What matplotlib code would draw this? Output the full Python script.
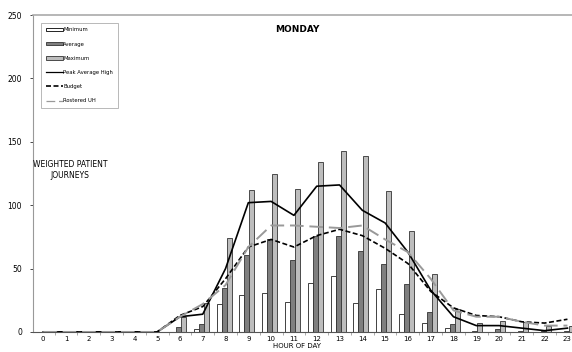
import matplotlib
matplotlib.use("Agg")
import matplotlib.pyplot as plt
import numpy as np
from matplotlib.patches import Patch
from matplotlib.lines import Line2D

hours = list(range(24))
hour_labels = [str(h) for h in hours]

minimum = [0, 0, 0, 0, 0, 0, 0, 2, 22, 29, 31, 24, 39, 44, 23, 34, 14, 7, 3, 0, 0, 0, 0, 0]
average = [0, 0, 0, 0, 0, 0, 4, 6, 35, 61, 73, 57, 76, 76, 64, 54, 38, 16, 6, 1, 2, 1, 1, 1]
maximum = [0, 0, 0, 0, 0, 0, 12, 23, 74, 112, 125, 113, 134, 143, 139, 111, 80, 46, 18, 7, 9, 8, 5, 5]

peak_avg_high = [0, 0, 0, 0, 0, 0, 12, 14, 50, 102, 103, 92, 115, 116, 96, 86, 63, 33, 12, 5, 5, 3, 1, 3]
budget = [0, 0, 0, 0, 0, 0, 13, 20, 42, 67, 73, 67, 76, 81, 76, 66, 54, 32, 19, 13, 12, 8, 7, 10]
rostered_uh = [0, 0, 0, 0, 0, 0, 12, 22, 37, 67, 84, 84, 83, 82, 84, 73, 63, 42, 17, 12, 12, 8, 5, 5]

y_ticks = [0, 50, 100, 150, 200, 250]

fig = plt.figure(figsize=(5.72, 3.52), dpi=100)
ax = fig.add_axes([0.058, 0.057, 0.942, 0.9])

x = np.arange(len(hours))
w = 0.22
ax.bar(x - 0.28, minimum, w, color="white", edgecolor="#222222", linewidth=0.6, zorder=2)
ax.bar(x - 0.06, average, w, color="#7f7f7f", edgecolor="#333333", linewidth=0.6, zorder=2)
ax.bar(x + 0.16, maximum, w, color="#bdbdbd", edgecolor="#333333", linewidth=0.6, zorder=2)

ax.plot(x, peak_avg_high, color="black", linewidth=1.2, zorder=3)
ax.plot(x, budget, color="black", linewidth=1.2, linestyle=(0, (3, 1.5)), zorder=3)
ax.plot(x, rostered_uh, color="#999999", linewidth=1.4, linestyle=(0, (7, 3)), zorder=3)

ax.set_xlim(-0.44, 23.2)
ax.set_ylim(0, 250)
ax.set_xticks(x)
ax.set_xticklabels(hour_labels, fontsize=5)
ax.set_yticks(y_ticks)
ax.set_yticklabels([str(v) for v in y_ticks], fontsize=5.5)
ax.set_xticks(x[:-1] + 0.5, minor=True)
ax.tick_params(axis="x", which="major", length=0, pad=3)
ax.tick_params(axis="x", which="minor", length=2, width=0.5, direction="out", color="#888888")
ax.tick_params(axis="y", length=2, width=0.5, pad=6)

ax.spines["right"].set_visible(False)
ax.spines["top"].set_color("#aaaaaa")
ax.spines["top"].set_linewidth(1.2)
ax.spines["left"].set_color("#999999")
ax.spines["left"].set_linewidth(0.8)
ax.spines["bottom"].set_color("#555555")
ax.spines["bottom"].set_linewidth(0.8)

ax.text(0.49, 0.955, "MONDAY", transform=ax.transAxes, ha="center", va="center",
        fontsize=6.5, fontweight="bold")
ax.text(0.068, 0.51, "WEIGHTED PATIENT\nJOURNEYS", transform=ax.transAxes, ha="center",
        va="center", fontsize=5.5, linespacing=1.3)
fig.text(0.52, 0.008, "HOUR OF DAY", ha="center", va="bottom", fontsize=5)

handles = [
    Patch(facecolor="white", edgecolor="black", linewidth=0.6),
    Patch(facecolor="#7f7f7f", edgecolor="#333333", linewidth=0.6),
    Patch(facecolor="#bdbdbd", edgecolor="#333333", linewidth=0.6),
    Line2D([], [], color="black", linewidth=0.9),
    Line2D([], [], color="black", linewidth=1.2, linestyle=(0, (3, 1.5))),
    Line2D([], [], color="#999999", linewidth=0.9, linestyle=(0, (7, 3))),
]
labels = ["Minimum", "Average", "Maximum", "Peak Average High", "Budget", "Rostered UH"]
leg = ax.legend(handles, labels, loc="upper left", bbox_to_anchor=(0.01, 0.985),
                fontsize=3.8, frameon=True, fancybox=False, edgecolor="#999999",
                handlelength=3.2, handleheight=0.6, labelspacing=1.75, borderpad=0.9,
                handletextpad=0.1)
leg.get_frame().set_linewidth(0.6)

fig.savefig("out.png", dpi=100)
